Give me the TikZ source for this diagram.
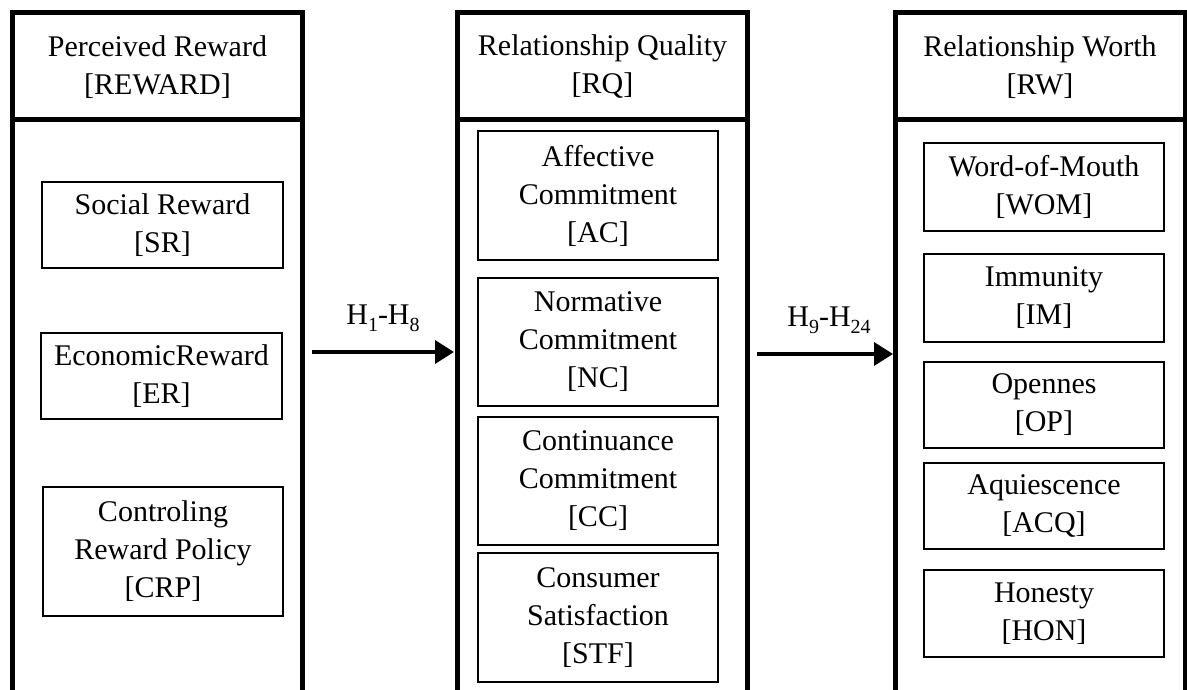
\documentclass[tikz,border=0pt]{standalone}
\usepackage{fontspec}
\setmainfont{Liberation Serif}
\usetikzlibrary{arrows.meta}
\tikzset{
  colframe/.style={line width=5pt},
  inbox/.style={draw, line width=2.6pt, align=center, inner sep=0pt, font=\fontsize{30}{38}\selectfont},
  head/.style={align=center, font=\fontsize{30}{38}\selectfont},
  hyp/.style={font=\fontsize{30}{36}\selectfont},
  link/.style={line width=3.5pt, -{Triangle[length=19pt,width=23pt]}}
}
\newcommand\mybox[6]{%
  \node[inbox, minimum width={#4-#2}, minimum height={#5-#3}] (#1) at ({(#2+#4)/2},{(#3+#5)/2}) {#6};}
\newcommand\hsub[1]{\raisebox{-7pt}{\fontsize{20}{20}\selectfont #1}}
\begin{document}
\begin{tikzpicture}[x=1pt,y=-1pt]
\fill[white] (0,0) rectangle (1187,690);
\useasboundingbox (0,0) rectangle (1187,690);
% column frames
\draw[colframe] (12.5,700) -- (12.5,12.5) -- (302.5,12.5) -- (302.5,700);
\draw[colframe] (12.5,120) -- (302.5,120);
\draw[colframe] (457.5,700) -- (457.5,12.5) -- (747.5,12.5) -- (747.5,700);
\draw[colframe] (457.5,120) -- (747.5,120);
\draw[colframe] (895,700) -- (895,12.5) -- (1185,12.5) -- (1185,700);
\draw[colframe] (895,120) -- (1185,120);
% headers
\node[head] (hL) at (157.5,67) {Perceived Reward\\{[REWARD]}};
\node[head] (hM) at (602.5,67) {Relationship Quality\\{[RQ]}};
\node[head] (hR) at (1040,67) {Relationship Worth\\{[RW]}};
% left boxes
\mybox{SR}{42}{182}{283}{268}{Social Reward\\{[SR]}}
\mybox{ER}{41}{333}{282}{419}{EconomicReward\\{[ER]}}
\mybox{CRP}{43}{487}{283}{616}{Controling\\Reward Policy\\{[CRP]}}
% middle boxes
\mybox{AC}{478}{131}{718}{260}{Affective\\Commitment\\{[AC]}}
\mybox{NC}{478}{278}{718}{406}{Normative\\Commitment\\{[NC]}}
\mybox{CC}{478}{417}{718}{545}{Continuance\\Commitment\\{[CC]}}
\mybox{STF}{478}{553}{718}{682}{Consumer\\Satisfaction\\{[STF]}}
% right boxes
\mybox{WOM}{924}{143}{1164}{231}{Word-of-Mouth\\{[WOM]}}
\mybox{IM}{924}{254}{1164}{342}{Immunity\\{[IM]}}
\mybox{OP}{924}{362}{1164}{448}{Opennes\\{[OP]}}
\mybox{ACQ}{924}{463}{1164}{549}{Aquiescence\\{[ACQ]}}
\mybox{HON}{924}{570}{1164}{657}{Honesty\\{[HON]}}
% arrows
\coordinate (a1s) at (312,352);
\coordinate (a1e) at (454,352);
\coordinate (a2s) at (757,354);
\coordinate (a2e) at (893,354);
\draw[link] (a1s) -- (a1e);
\draw[link] (a2s) -- (a2e);
\node[hyp] (l1) at (383,318) {H\hsub{1}-H\hsub{8}};
\node[hyp] (l2) at (829,320) {H\hsub{9}-H\hsub{24}};
\end{tikzpicture}
\end{document}
